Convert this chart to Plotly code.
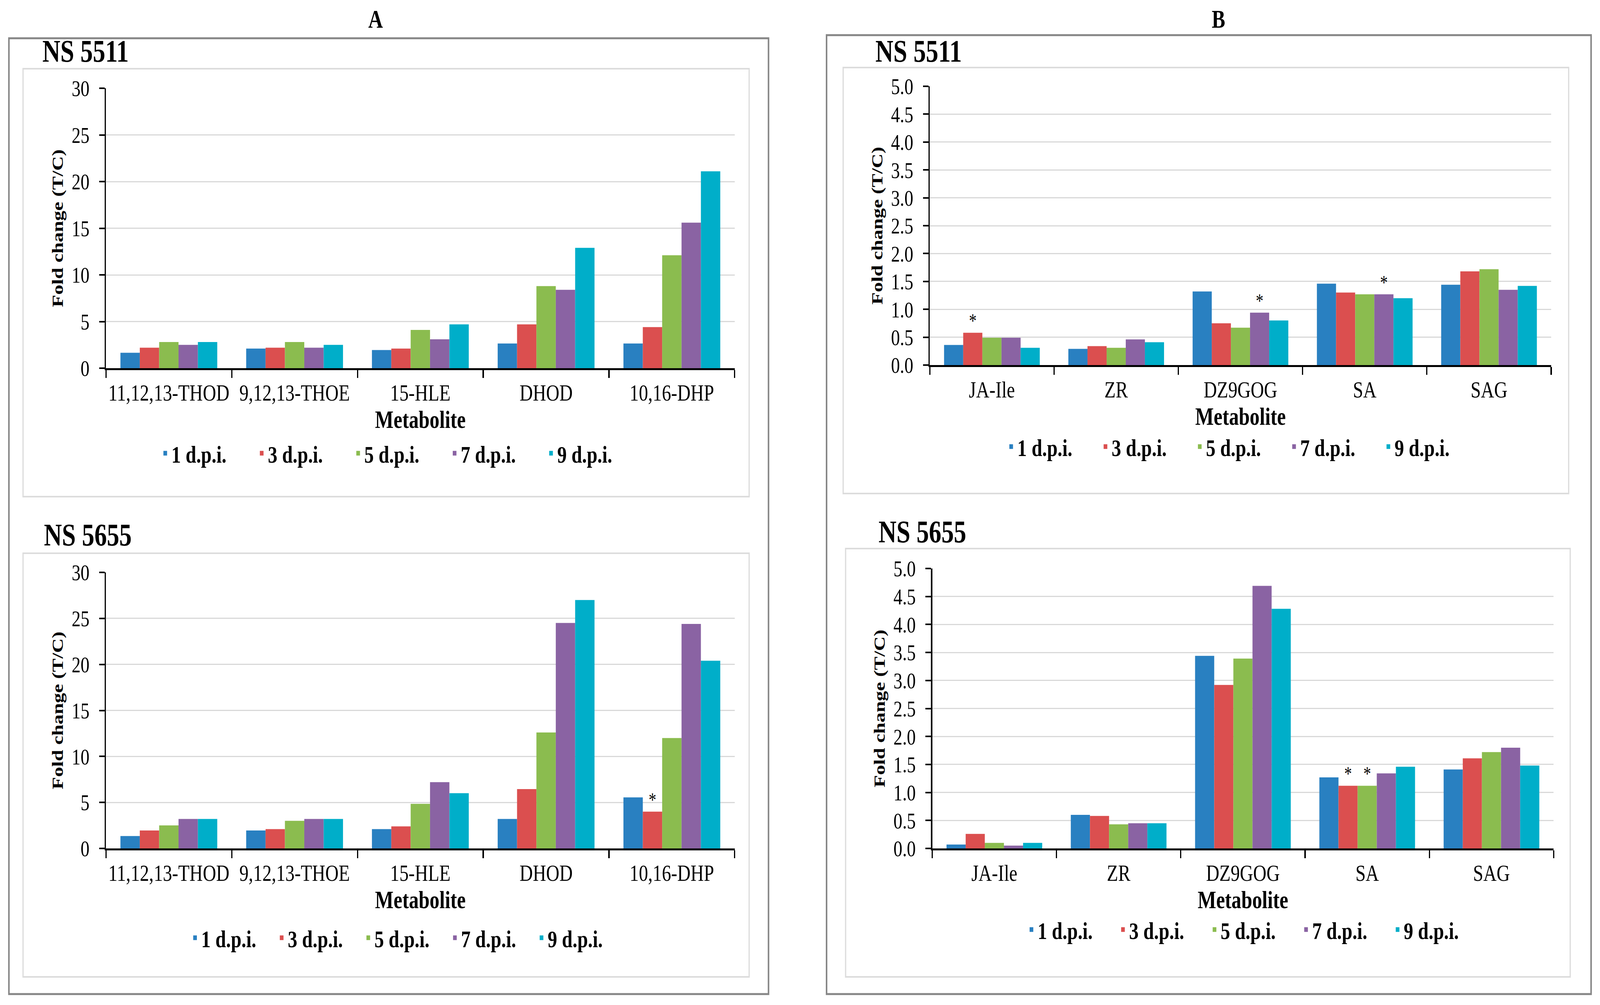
import plotly.graph_objects as go

W, H = 5209, 2574

series_names = ["1 d.p.i.", "3 d.p.i.", "5 d.p.i.", "7 d.p.i.", "9 d.p.i."]
colors = ["#2980C1", "#DB4F4F", "#8BBC4F", "#8A63A3", "#00AEC9"]

metabolites_A = ["11,12,13-THOD", "9,12,13-THOE", "15-HLE", "DHOD", "10,16-DHP"]
metabolites_B = ["JA-Ile", "ZR", "DZ9GOG", "SA", "SAG"]

# Panel A, NS 5511
a5511_d1 = [1.65, 2.10, 1.95, 2.65, 2.65]
a5511_d3 = [2.20, 2.20, 2.10, 4.70, 4.40]
a5511_d5 = [2.80, 2.80, 4.10, 8.80, 12.10]
a5511_d7 = [2.50, 2.20, 3.10, 8.40, 15.60]
a5511_d9 = [2.80, 2.50, 4.70, 12.90, 21.10]
a5511_stars = []

# Panel A, NS 5655
a5655_d1 = [1.35, 1.95, 2.10, 3.20, 5.55]
a5655_d3 = [1.95, 2.10, 2.40, 6.45, 4.00]
a5655_d5 = [2.50, 3.00, 4.85, 12.60, 12.00]
a5655_d7 = [3.20, 3.20, 7.20, 24.50, 24.40]
a5655_d9 = [3.20, 3.20, 6.00, 27.00, 20.40]
a5655_stars = [(1, 4)]

# Panel B, NS 5511
b5511_d1 = [0.36, 0.29, 1.32, 1.46, 1.44]
b5511_d3 = [0.58, 0.34, 0.75, 1.30, 1.68]
b5511_d5 = [0.49, 0.31, 0.67, 1.27, 1.72]
b5511_d7 = [0.49, 0.46, 0.94, 1.27, 1.35]
b5511_d9 = [0.31, 0.41, 0.80, 1.20, 1.42]
b5511_stars = [(1, 0), (3, 2), (3, 3)]

# Panel B, NS 5655
b5655_d1 = [0.07, 0.60, 3.44, 1.27, 1.41]
b5655_d3 = [0.26, 0.58, 2.92, 1.12, 1.61]
b5655_d5 = [0.10, 0.43, 3.39, 1.12, 1.72]
b5655_d7 = [0.05, 0.45, 4.69, 1.34, 1.80]
b5655_d9 = [0.10, 0.45, 4.28, 1.46, 1.48]
b5655_stars = [(1, 3), (2, 3)]

SERIF = "Liberation Serif, Times New Roman, serif"


def px_x(p):
    return p / W


def px_y(p):
    return 1 - p / H


panels = [
    dict(cats=metabolites_A, data=[a5511_d1, a5511_d3, a5511_d5, a5511_d7, a5511_d9],
         stars=a5511_stars, ax="", legend="legend",
         xdom=(345, 2392), ydom=(226, 943), yrange=[0, 30], dtick=5, fmt="d",
         leg=(518, 1161), entry=269),
    dict(cats=metabolites_A, data=[a5655_d1, a5655_d3, a5655_d5, a5655_d7, a5655_d9],
         stars=a5655_stars, ax="2", legend="legend2",
         xdom=(345, 2392), ydom=(1466, 2173), yrange=[0, 30], dtick=5, fmt="d",
         leg=(615, 2402), entry=237),
    dict(cats=metabolites_B, data=[b5511_d1, b5511_d3, b5511_d5, b5511_d7, b5511_d9],
         stars=b5511_stars, ax="3", legend="legend3",
         xdom=(3027, 5050), ydom=(221, 935), yrange=[0, 5], dtick=0.5, fmt=".1f",
         leg=(3272, 1144), entry=262),
    dict(cats=metabolites_B, data=[b5655_d1, b5655_d3, b5655_d5, b5655_d7, b5655_d9],
         stars=b5655_stars, ax="4", legend="legend4",
         xdom=(3035, 5058), ydom=(1456, 2173), yrange=[0, 5], dtick=0.5, fmt=".1f",
         leg=(3338, 2381), entry=253),
]

fig = go.Figure()
layout = dict(
    width=W, height=H, autosize=False,
    margin=dict(l=0, r=0, t=0, b=0),
    paper_bgcolor="white", plot_bgcolor="white",
    barmode="group", bargap=0.23, bargroupgap=0,
    font=dict(family=SERIF, color="black", size=56),
)

for p in panels:
    ax = p["ax"]
    for si, (name, vals) in enumerate(zip(series_names, p["data"])):
        texts = ["*" if (si, ci) in p["stars"] else "" for ci in range(len(vals))]
        fig.add_trace(go.Bar(
            x=p["cats"], y=vals, name=name,
            marker=dict(color=colors[si], line=dict(width=0)),
            text=texts, textposition="outside", constraintext="none",
            textfont=dict(family=SERIF, size=50, color="black"),
            cliponaxis=False,
            xaxis="x" + ax, yaxis="y" + ax, legend=p["legend"],
            showlegend=True,
        ))
    xkey = "xaxis" + ax
    ykey = "yaxis" + ax
    layout[xkey] = dict(
        domain=[px_x(p["xdom"][0]), px_x(p["xdom"][1])],
        anchor="y" + ax, type="category",
        showline=True, linecolor="black", linewidth=5,
        ticks="outside", tickson="boundaries", ticklen=20, tickwidth=4, tickcolor="black",
        tickfont=dict(family=SERIF, size=60, color="black"),
        ticklabelstandoff=6,
        showgrid=False, zeroline=False,
        title=dict(text="<b>Metabolite</b>", font=dict(family=SERIF, size=64, color="black"),
                   standoff=10),
        automargin=False,
    )
    layout[ykey] = dict(
        domain=[px_y(p["ydom"][1]), px_y(p["ydom"][0])],
        anchor="x" + ax, range=p["yrange"], dtick=p["dtick"], tick0=0,
        tickformat=p["fmt"],
        showline=True, linecolor="black", linewidth=4,
        ticks="outside", ticklen=18, tickwidth=4, tickcolor="black",
        tickfont=dict(family=SERIF, size=58, color="black"),
        ticklabelstandoff=20,
        showgrid=True, gridcolor="#D9D9D9", gridwidth=3, zeroline=False,
        title=dict(text="<b>Fold change (T/C)</b>", font=dict(family=SERIF, size=52, color="black"),
                   standoff=12),
        automargin=False,
    )
    layout[p["legend"]] = dict(
        orientation="h", x=px_x(p["leg"][0]), xanchor="left",
        y=px_y(p["leg"][1]), yanchor="middle",
        entrywidth=p["entry"], entrywidthmode="pixels",
        font=dict(family=SERIF, size=62, color="black", weight="bold"),
        bgcolor="rgba(0,0,0,0)", borderwidth=0, traceorder="normal",
    )

# Frames: outer panels and inner chart areas
shapes = []
for (x0, y0, x1, y1) in [(29, 98, 2502, 2546), (2691, 90, 5180, 2546)]:
    shapes.append(dict(type="rect", xref="paper", yref="paper",
                       x0=px_x(x0), x1=px_x(x1), y0=px_y(y1), y1=px_y(y0),
                       line=dict(color="#868686", width=5), fillcolor="rgba(0,0,0,0)",
                       layer="below"))
for (x0, y0, x1, y1) in [(75, 176, 2439, 1272), (75, 1417, 2439, 2502),
                         (2745, 173, 5107, 1264), (2753, 1405, 5112, 2502)]:
    shapes.append(dict(type="rect", xref="paper", yref="paper",
                       x0=px_x(x0), x1=px_x(x1), y0=px_y(y1), y1=px_y(y0),
                       line=dict(color="#DCDCDC", width=4), fillcolor="rgba(0,0,0,0)",
                       layer="below"))
layout["shapes"] = shapes

annotations = []
for txt, cx, cy in [("A", 1223, 48), ("B", 3967, 48)]:
    annotations.append(dict(text="<b>%s</b>" % txt, x=px_x(cx), y=px_y(cy), xref="paper", yref="paper",
                            xanchor="center", yanchor="middle", showarrow=False,
                            font=dict(family=SERIF, size=66, color="black")))
for txt, lx, cy in [("NS 5511", 136, 131), ("NS 5655", 141, 1370),
                    ("NS 5511", 2848, 131), ("NS 5655", 2858, 1362)]:
    annotations.append(dict(text="<b>%s</b>" % txt, x=px_x(lx), y=px_y(cy), xref="paper", yref="paper",
                            xanchor="left", yanchor="middle", showarrow=False,
                            font=dict(family=SERIF, size=81, color="black")))
layout["annotations"] = annotations

fig.update_layout(**layout)

# Fit the fixed-size figure into whatever viewport the page is opened in.
fit_script = """
var gd = document.getElementById('{plot_id}');
var W0 = %d, H0 = %d;
var vw = window.innerWidth, vh = window.innerHeight;
if (vw > 0 && vh > 0) {
  var sx = vw / W0, sy = vh / H0;
  var de = document.documentElement, bd = document.body;
  de.style.margin = '0'; de.style.padding = '0'; de.style.overflow = 'hidden';
  bd.style.margin = '0'; bd.style.padding = '0'; bd.style.overflow = 'hidden';
  var wrap = gd.parentElement;
  wrap.style.width = vw + 'px'; wrap.style.height = vh + 'px';
  wrap.style.overflow = 'hidden'; wrap.style.position = 'relative';
  gd.style.position = 'absolute'; gd.style.left = '0px'; gd.style.top = '0px';
  gd.style.transformOrigin = '0 0';
  gd.style.transform = 'scale(' + sx + ',' + sy + ')';
}
""" % (W, H)

fig.write_html("out.html", post_script=fit_script, config={"displayModeBar": False})
